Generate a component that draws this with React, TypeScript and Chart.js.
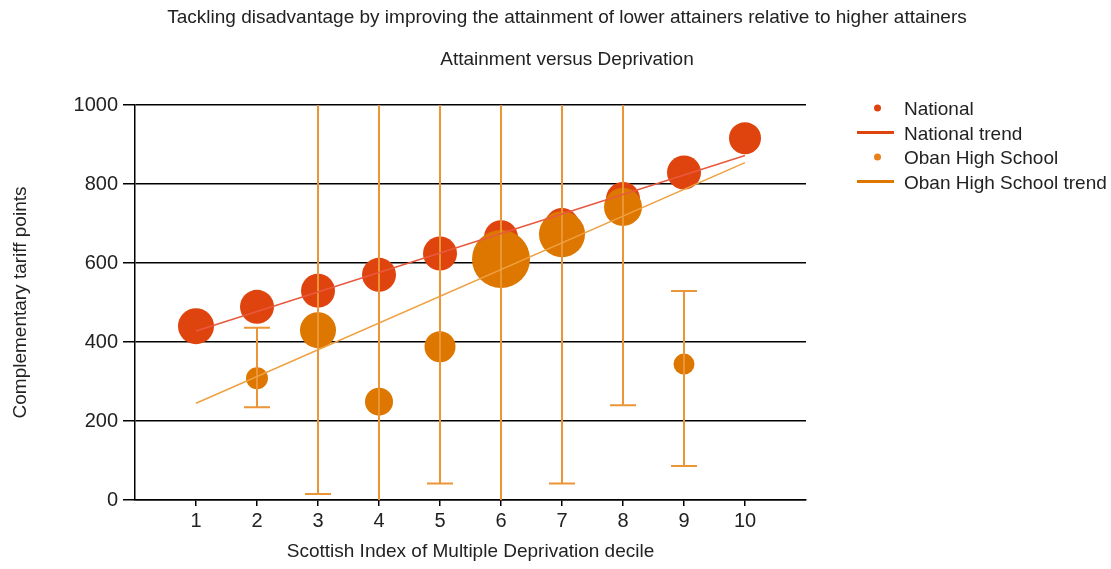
import React, { useEffect, useRef } from "react";
import { Chart, registerables } from "chart.js";

Chart.register(...registerables);

// ---- data ----
const deciles = [1, 2, 3, 4, 5, 6, 7, 8, 9, 10];
const nationalValues = [440, 489, 530, 570, 624, 665, 696, 762, 829, 916];
const nationalSizes = [18, 17, 17, 17, 17, 17, 17, 17, 17, 16];

const obanDeciles = [2, 3, 4, 5, 6, 7, 8, 9];
const obanValues = [308, 430, 249, 388, 610, 673, 742, 344];
const obanSizes = [11, 18, 14, 15.5, 29, 23, 19, 10.5];
const obanLower = [235, 15, -30, 42, -30, 42, 240, 86];
const obanUpper = [436, 1100, 1100, 1100, 1100, 1100, 1100, 529];

const trendX = [1, 10];
const nationalTrend = [428, 872];
const obanTrend = [245, 854];

const yTicks = [0, 200, 400, 600, 800, 1000];

const titleText =
  "Tackling disadvantage by improving the attainment of lower attainers relative to higher attainers";
const subtitleText = "Attainment versus Deprivation";
const xTitle = "Scottish Index of Multiple Deprivation decile";
const yTitle = "Complementary tariff points";
const legendLabels = ["National", "National trend", "Oban High School", "Oban High School trend"];

// ---- styles ----
const FONT = "'Liberation Sans', Arial, sans-serif";
const TEXT = "#222";
const NAT = "#E0440E";
const OBAN = "#DD7700";
const NAT_TREND = "#E85A40";
const OBAN_TREND = "#EFA040";
const ERR = "#EB9537";

const errorBarsPlugin = {
  id: "errorBars",
  afterDatasetDraw(chart: any, args: any) {
    if (args.index !== 1) return;
    const { ctx, chartArea, scales } = chart;
    const x = scales.x;
    const y = scales.y;
    ctx.save();
    ctx.beginPath();
    ctx.rect(chartArea.left, chartArea.top, chartArea.right - chartArea.left, chartArea.bottom - chartArea.top);
    ctx.clip();
    ctx.strokeStyle = ERR;
    ctx.lineWidth = 2;
    obanDeciles.forEach((d, i) => {
      const px = x.getPixelForValue(d);
      const pt = y.getPixelForValue(obanUpper[i]);
      const pb = y.getPixelForValue(obanLower[i]);
      ctx.beginPath();
      ctx.moveTo(px, pt);
      ctx.lineTo(px, pb);
      ctx.moveTo(px - 13, pt);
      ctx.lineTo(px + 13, pt);
      ctx.moveTo(px - 13, pb);
      ctx.lineTo(px + 13, pb);
      ctx.stroke();
    });
    ctx.restore();
  },
};

const legendPlugin = {
  id: "customLegend",
  afterDraw(chart: any) {
    const { ctx } = chart;
    ctx.save();
    ctx.font = `19px ${FONT}`;
    ctx.textBaseline = "alphabetic";
    ctx.textAlign = "left";
    const baselines = [115, 139.5, 164, 188.5];
    const kinds = ["dot", "line", "dot", "line"];
    const colors = [NAT, NAT, "#E8801A", OBAN];
    legendLabels.forEach((label, i) => {
      const cy = baselines[i] - 7;
      ctx.fillStyle = colors[i];
      ctx.strokeStyle = colors[i];
      if (kinds[i] === "dot") {
        ctx.beginPath();
        ctx.arc(877.5, cy, 3.5, 0, Math.PI * 2);
        ctx.fill();
      } else {
        ctx.lineWidth = 3;
        ctx.beginPath();
        ctx.moveTo(857, cy);
        ctx.lineTo(894, cy);
        ctx.stroke();
      }
      ctx.fillStyle = TEXT;
      ctx.fillText(label, 904, baselines[i]);
    });
    ctx.restore();
  },
};

export default function App() {
  const ref = useRef<HTMLCanvasElement>(null);

  useEffect(() => {
    if (!ref.current) return;
    const chart = new Chart(ref.current, {
      type: "bubble",
      data: {
        datasets: [
          {
            type: "line",
            label: legendLabels[3],
            data: trendX.map((x, i) => ({ x, y: obanTrend[i] })),
            borderColor: OBAN_TREND,
            borderWidth: 1.5,
            pointRadius: 0,
            fill: false,
            order: 0,
          } as any,
          {
            label: legendLabels[2],
            data: obanDeciles.map((x, i) => ({ x, y: obanValues[i], r: obanSizes[i] })),
            backgroundColor: OBAN,
            borderWidth: 0,
            order: 2,
          },
          {
            type: "line",
            label: legendLabels[1],
            data: trendX.map((x, i) => ({ x, y: nationalTrend[i] })),
            borderColor: NAT_TREND,
            borderWidth: 1.5,
            pointRadius: 0,
            fill: false,
            order: 1,
          } as any,
          {
            label: legendLabels[0],
            data: deciles.map((x, i) => ({ x, y: nationalValues[i], r: nationalSizes[i] })),
            backgroundColor: NAT,
            borderWidth: 0,
            order: 3,
          },
        ],
      },
      options: {
        animation: false,
        responsive: true,
        maintainAspectRatio: false,
        events: [],
        layout: { padding: { left: 0, right: -23, top: 0, bottom: 0 } },
        plugins: {
          legend: { display: false },
          tooltip: { enabled: false },
          title: {
            display: true,
            text: titleText,
            color: TEXT,
            font: { family: FONT, size: 19, weight: "normal" },
            padding: { top: 6, bottom: 0 },
          },
          subtitle: {
            display: true,
            text: subtitleText,
            color: TEXT,
            font: { family: FONT, size: 19, weight: "normal" },
            padding: { top: 19.2, bottom: 34.2 },
          },
        },
        scales: {
          x: {
            type: "linear",
            position: "bottom",
            min: 0,
            max: 11,
            afterBuildTicks: (s: any) => {
              s.ticks = deciles.map((v) => ({ value: v }));
            },
            afterFit: (s: any) => {
              s.height = 69;
            },
            ticks: {
              color: TEXT,
              font: { family: FONT, size: 20 },
              padding: 3,
              callback: (v: any) => String(v),
            },
            grid: {
              display: true,
              drawOnChartArea: false,
              drawTicks: true,
              tickLength: 6,
              color: "#000",
              lineWidth: 1.5,
            },
            border: { display: true, color: "#000", width: 1.5 },
            title: {
              display: true,
              text: xTitle,
              color: TEXT,
              font: { family: FONT, size: 19 },
              padding: { top: 7.6, bottom: 5.6 },
            },
          },
          y: {
            type: "linear",
            position: "left",
            min: 0,
            max: 1000,
            afterBuildTicks: (s: any) => {
              s.ticks = yTicks.map((v) => ({ value: v }));
            },
            afterFit: (s: any) => {
              s.width = 135;
            },
            ticks: {
              color: TEXT,
              font: { family: FONT, size: 20 },
              padding: 5,
              callback: (v: any) => String(v),
            },
            grid: {
              display: true,
              drawTicks: true,
              tickLength: 12,
              color: "#000",
              lineWidth: 1.5,
            },
            border: { display: true, color: "#000", width: 1.5 },
            title: {
              display: true,
              text: yTitle,
              color: TEXT,
              font: { family: FONT, size: 19 },
              padding: { top: 9, bottom: 0 },
            },
          },
          yLegendSpace: {
            type: "linear",
            position: "right",
            display: true,
            afterFit: (s: any) => {
              s.width = 328;
            },
            ticks: { display: false },
            grid: { display: false, drawTicks: false },
            border: { display: false },
          },
        },
      },
      plugins: [errorBarsPlugin, legendPlugin],
    });
    return () => chart.destroy();
  }, []);

  return (
    <div
      style={{
        position: "fixed",
        left: 0,
        top: 0,
        width: 1111,
        height: 569,
        background: "#fff",
      }}
    >
      <canvas ref={ref} />
    </div>
  );
}
